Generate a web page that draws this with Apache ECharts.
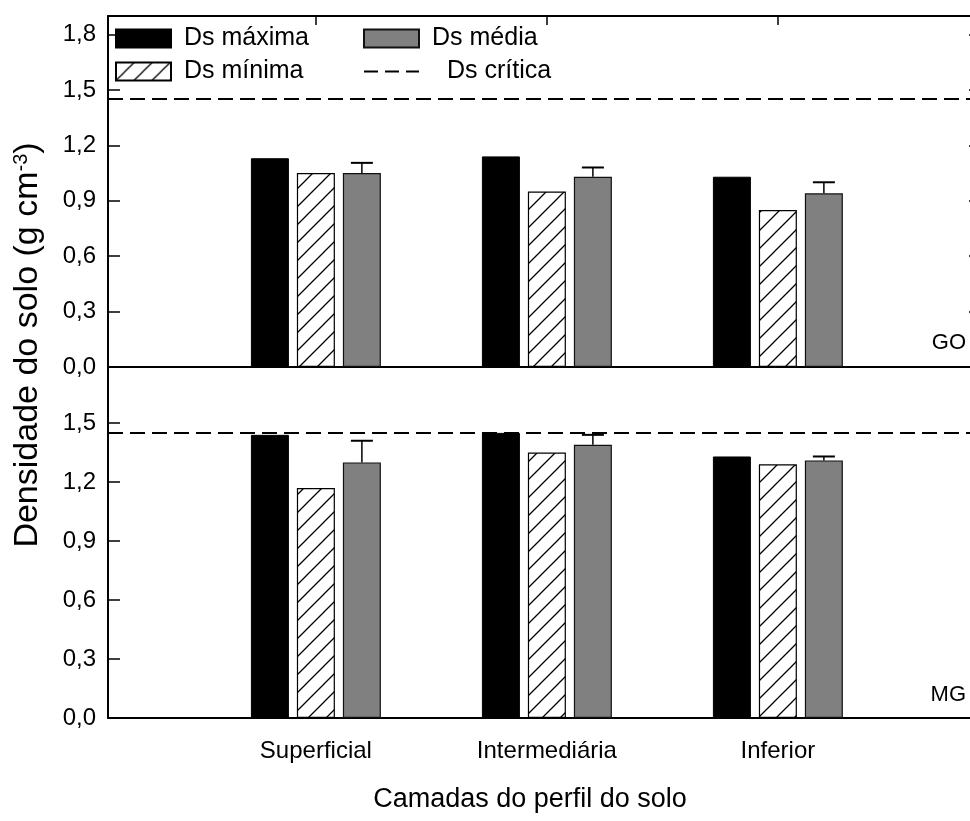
<!DOCTYPE html>
<html>
<head>
<meta charset="utf-8">
<script src="https://cdn.jsdelivr.net/npm/echarts@6/dist/echarts.min.js"></script>
<style>
  html, body { margin: 0; padding: 0; background: #fff; }
  #chart { width: 970px; height: 821px; }
</style>
</head>
<body>
<div id="chart"></div>
<script>
// Soil layers and their positions on the shared x scale
const layers = ['Superficial', 'Intermediária', 'Inferior'];
const layerPos = [1, 2, 3];

// Bulk density (g cm-3), GO site
const goMax  = [1.13, 1.14, 1.03];
const goMin  = [1.05, 0.95, 0.85];
const goMean = [1.05, 1.03, 0.94];
const goErr  = [0.055, 0.05, 0.06];

// Bulk density (g cm-3), MG site
const mgMax  = [1.44, 1.45, 1.33];
const mgMin  = [1.17, 1.35, 1.29];
const mgMean = [1.30, 1.39, 1.31];
const mgErr  = [0.11, 0.05, 0.02];

// Critical bulk density
const critical = 1.45;

const FONT = '"Liberation Sans", Arial, sans-serif';
const BAR_W = 38;
const BAR_STEP = 46; // centre-to-centre distance of neighbouring bars

// Diagonal hatch fill for the minimum-density bars
function hatchPattern() {
  const s = 18;
  const c = document.createElement('canvas');
  c.width = s; c.height = s;
  const g = c.getContext('2d');
  g.fillStyle = '#fff';
  g.fillRect(0, 0, s, s);
  g.strokeStyle = '#000';
  g.lineWidth = 1.3;
  g.beginPath();
  g.moveTo(-2, s + 2); g.lineTo(s + 2, -2);
  g.moveTo(-2, 2); g.lineTo(2, -2);
  g.moveTo(s - 2, s + 2); g.lineTo(s + 2, s - 2);
  g.stroke();
  return c;
}
const hatch = { image: hatchPattern(), repeat: 'repeat' };

const pairs = (vals) => vals.map((v, i) => [layerPos[i], v]);
const fmt = (v) => v.toFixed(1).replace('.', ',');

function barSeries(name, vals, xi, yi, style, extra) {
  return Object.assign({
    name, type: 'bar', xAxisIndex: xi, yAxisIndex: yi,
    data: pairs(vals), barWidth: BAR_W, barGap: '21%',
    itemStyle: style, silent: true, animation: false
  }, extra || {});
}

function criticalLine() {
  return {
    silent: true, symbol: 'none', animation: false,
    label: { show: false },
    lineStyle: { type: [15, 7], color: '#000', width: 2 },
    data: [{ yAxis: critical }]
  };
}

function errorBars(means, errs, xi, yi) {
  return {
    type: 'custom', xAxisIndex: xi, yAxisIndex: yi, silent: true, z: 5,
    animation: false,
    data: means.map((m, i) => [layerPos[i], m, m + errs[i]]),
    encode: { x: 0, y: [1, 2] },
    renderItem(params, api) {
      const lo = api.coord([api.value(0), api.value(1)]);
      const hi = api.coord([api.value(0), api.value(2)]);
      const x = lo[0] + BAR_STEP;
      return {
        type: 'group',
        children: [
          { type: 'line', shape: { x1: x, y1: lo[1], x2: x, y2: hi[1] },
            style: { stroke: '#000', lineWidth: 1.5 } },
          { type: 'line', shape: { x1: x - 11, y1: hi[1], x2: x + 11, y2: hi[1] },
            style: { stroke: '#000', lineWidth: 2 } }
        ]
      };
    }
  };
}

const blackStyle = { color: '#000', borderColor: '#000', borderWidth: 1 };
const hatchStyle = { color: hatch, borderColor: '#000', borderWidth: 1.2 };
const grayStyle  = { color: '#808080', borderColor: '#111', borderWidth: 1.2 };

const xRange = { min: 0.1, max: 3.875 };
const axisLine = { show: true, onZero: false, lineStyle: { color: '#000', width: 2 } };
const legendText = { fontSize: 25, color: '#000', fontFamily: FONT, width: 170,
                     lineHeight: 18, padding: [0, 0, 0, 8] };
const clear = 'rgba(0,0,0,0)';

const chart = echarts.init(document.getElementById('chart'), null, { renderer: 'canvas' });

chart.setOption({
  backgroundColor: '#fff',
  animation: false,
  textStyle: { fontFamily: FONT },
  grid: [
    { left: 108, top: 16, right: -10, height: 351, outerBoundsMode: 'none' },
    { left: 108, top: 368, right: -10, height: 350, outerBoundsMode: 'none' }
  ],
  xAxis: [
    // GO panel, bottom edge
    { type: 'value', gridIndex: 0, position: 'bottom', ...xRange,
      axisLine, axisTick: { show: false }, axisLabel: { show: false }, splitLine: { show: false } },
    // GO panel, top frame with ticks at each layer
    { type: 'value', gridIndex: 0, position: 'top', ...xRange,
      axisLine, axisLabel: { show: false }, splitLine: { show: false },
      axisTick: { show: true, inside: true, length: 9, customValues: layerPos,
                  lineStyle: { color: '#000', width: 1.5 } } },
    // MG panel, bottom edge with layer names
    { type: 'value', gridIndex: 1, position: 'bottom', ...xRange,
      axisLine, axisTick: { show: false }, splitLine: { show: false },
      axisLabel: { show: true, customValues: layerPos, margin: 21,
                   formatter: (v) => layers[layerPos.indexOf(v)] ?? '',
                   color: '#000', fontSize: 24, fontFamily: FONT } }
  ],
  yAxis: [
    { type: 'value', gridIndex: 0, min: 0, max: 1.9, interval: 0.3,
      axisLine, splitLine: { show: false },
      axisTick: { show: true, inside: true, length: 12, lineStyle: { color: '#000', width: 1.5 } },
      axisLabel: { color: '#000', fontSize: 24, fontFamily: FONT, margin: 12,
                   showMaxLabel: false, formatter: fmt } },
    { type: 'value', gridIndex: 0, position: 'right', min: 0, max: 1.9, interval: 0.3,
      axisLine, splitLine: { show: false }, axisLabel: { show: false },
      axisTick: { show: true, inside: true, length: 11, lineStyle: { color: '#000', width: 1.5 } } },
    { type: 'value', gridIndex: 1, min: 0, max: 1.78, interval: 0.3,
      axisLine, splitLine: { show: false },
      axisTick: { show: true, inside: true, length: 12, lineStyle: { color: '#000', width: 1.5 } },
      axisLabel: { color: '#000', fontSize: 24, fontFamily: FONT, margin: 12,
                   showMaxLabel: false, formatter: fmt } }
  ],
  legend: [
    { left: 115, top: 26, padding: 0, orient: 'horizontal', selectedMode: false,
      itemWidth: 55, itemHeight: 18, itemGap: 9, textStyle: legendText,
      data: [{ name: 'Ds máxima', icon: 'rect' }, { name: 'Ds média', icon: 'rect' }] },
    { left: 115, top: 59, padding: 0, orient: 'horizontal', selectedMode: false,
      itemWidth: 55, itemHeight: 18, itemGap: 9, textStyle: legendText,
      data: [{ name: 'Ds mínima', icon: 'rect' },
             { name: 'Ds crítica',
               itemStyle: { color: clear, borderColor: clear, borderWidth: 0, opacity: 0 },
               textStyle: { padding: [0, 0, 0, 23] } }] }
  ],
  series: [
    barSeries('Ds máxima', goMax, 0, 0, blackStyle, { markLine: criticalLine() }),
    barSeries('Ds mínima', goMin, 0, 0, hatchStyle),
    barSeries('Ds média', goMean, 0, 0, grayStyle),
    errorBars(goMean, goErr, 0, 0),
    barSeries('Ds máxima', mgMax, 2, 2, blackStyle, { markLine: criticalLine() }),
    barSeries('Ds mínima', mgMin, 2, 2, hatchStyle),
    barSeries('Ds média', mgMean, 2, 2, grayStyle),
    errorBars(mgMean, mgErr, 2, 2),
    { name: 'Ds crítica', type: 'line', xAxisIndex: 0, yAxisIndex: 0, data: [],
      symbol: 'none', lineStyle: { type: [14, 7], color: '#000', width: 2 },
      itemStyle: { color: '#000' } }
  ],
  graphic: [
    { type: 'text', x: 28, y: 345, rotation: Math.PI / 2,
      style: { text: 'Densidade do solo (g cm{sup|-3})', fontSize: 34, fontFamily: FONT,
               fill: '#000', align: 'center', verticalAlign: 'middle',
               rich: { sup: { fontSize: 20, verticalAlign: 'top', fontFamily: FONT, fill: '#000' } } } },
    { type: 'text', x: 530, y: 800,
      style: { text: 'Camadas do perfil do solo', fontSize: 27, fontFamily: FONT, fill: '#000',
               align: 'center', verticalAlign: 'middle' } },
    { type: 'text', x: 966, y: 343,
      style: { text: 'GO', fontSize: 22, fontFamily: FONT, fill: '#000', align: 'right', verticalAlign: 'middle' } },
    { type: 'text', x: 966, y: 695,
      style: { text: 'MG', fontSize: 22, fontFamily: FONT, fill: '#000', align: 'right', verticalAlign: 'middle' } }
  ]
});
</script>
</body>
</html>
